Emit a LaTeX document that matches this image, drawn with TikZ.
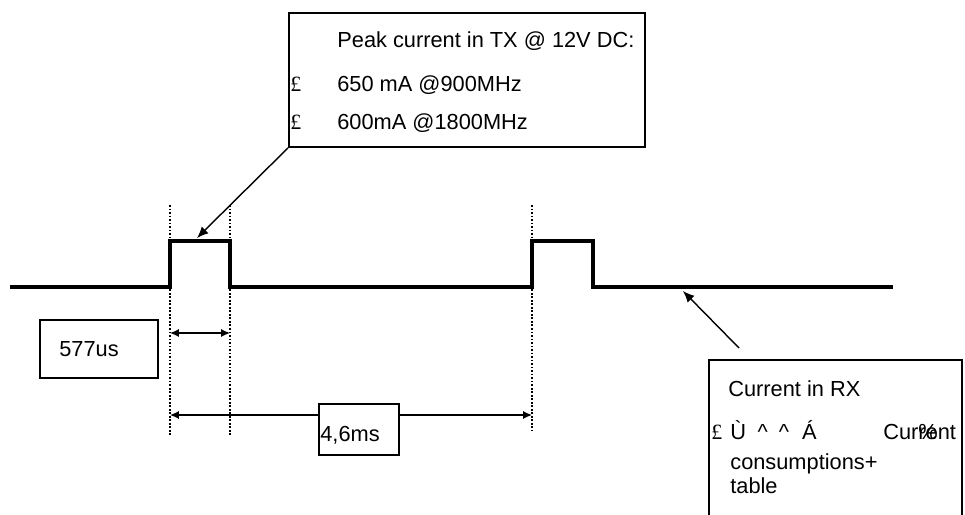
\documentclass[tikz,border=0pt]{standalone}
\usepackage{fontspec}
\setmainfont{Liberation Sans}
\newfontfamily\bulletfont{Liberation Serif}
\usetikzlibrary{arrows.meta,calc}

\begin{document}
\begin{tikzpicture}[
    x=0.2mm,
    y=-0.2mm,
    font=\fontsize{12.4}{14}\selectfont,
    >={Latex[length=6.5pt,width=5.5pt]},
    signal/.style={line width=2.2pt, line join=miter},
    marker/.style={dash pattern=on 1pt off 1pt, line width=0.6pt},
    dimarrow/.style={<->, line width=0.7pt, >={Latex[length=5pt,width=4.5pt]}},
    callout/.style={->, line width=0.8pt},
    box/.style={
        draw,
        line width=1.1pt,
        fill=white,
        inner sep=0pt,
        anchor=north west
    },
    txt/.style={anchor=base west, inner sep=0pt},
    bullet/.style={txt, font=\bulletfont\fontsize{12.4}{14}\selectfont}
]

\useasboundingbox (0,0) rectangle (965,515);

% Waveform corners
\coordinate (s0) at (10,287);
\coordinate (r1) at (170,287);
\coordinate (r1h) at (170,241);
\coordinate (f1h) at (230,241);
\coordinate (f1) at (230,287);
\coordinate (r2) at (532,287);
\coordinate (r2h) at (532,241);
\coordinate (f2h) at (593,241);
\coordinate (f2) at (593,287);
\coordinate (s1) at (893,287);

\draw[signal] (s0) -- (r1) -- (r1h) -- (f1h) -- (f1) -- (r2) -- (r2h) -- (f2h) -- (f2) -- (s1);

% Timing markers
\coordinate (m1top) at (170,205);
\coordinate (m1bot) at (170,435);
\coordinate (m2top) at (230,205);
\coordinate (m2bot) at (230,435);
\coordinate (m3top) at (532,205);
\coordinate (m3bot) at (532,430);

\draw[marker] (m1top) -- (m1bot);
\draw[marker] (m2top) -- (m2bot);
\draw[marker] (m3top) -- (m3bot);

% Dimension arrows
\coordinate (slotl) at (170,333);
\coordinate (slotr) at (230,333);
\coordinate (framel) at (170,415);
\coordinate (framer) at (532,415);

\draw[dimarrow] (slotl) -- (slotr);
\draw[dimarrow] (framel) -- (framer);

% Boxes
\node[box, minimum width=71.2mm, minimum height=26.8mm] (txbox) at (288,12) {};
\node[box, minimum width=23.6mm, minimum height=11.6mm] (slotbox) at (39,319) {};
\node[box, minimum width=16mm, minimum height=10.2mm] (framebox) at (318,403) {};
\node[box, minimum width=50.6mm, minimum height=36mm] (rxbox) at (708,359) {};

% TX text
\node[txt] (txhead) at (337,48) {Peak current in TX @ 12V DC:};
\node[bullet] (txbulone) at (290,92) {£};
\node[txt] (txone) at (337,92) {650 mA @900MHz};
\node[bullet] (txbultwo) at (290,130) {£};
\node[txt] (txtwo) at (337,130) {600mA @1800MHz};

% Timing labels
\node[txt] (slottext) at (59,357) {577us};
\node[txt] (frametext) at (320,442) {4,6ms};

% RX text
\node[txt] (rxhead) at (728,397) {Current in RX};
\node[bullet] (rxbul) at (711,440) {£};
\node[txt] (rxsym) at (730,440) {Ù\hspace{6.5pt}\textasciicircum\hspace{6.3pt}\textasciicircum\hspace{7.5pt}Á};
\node[txt] (rxcur) at (883,440) {Current};
\node[txt] (rxpct) at (918,440) {\%};
\node[txt] (rxcons) at (730,470) {consumptions+};
\node[txt] (rxtable) at (730,494) {table};

% Callouts
\coordinate (txtip) at (197,238);
\coordinate (rxtail) at (739,348);
\coordinate (rxtip) at (683,291);

\draw[callout] (txbox.south west) -- (txtip);
\draw[callout] (rxtail) -- (rxtip);

\end{tikzpicture}
\end{document}
